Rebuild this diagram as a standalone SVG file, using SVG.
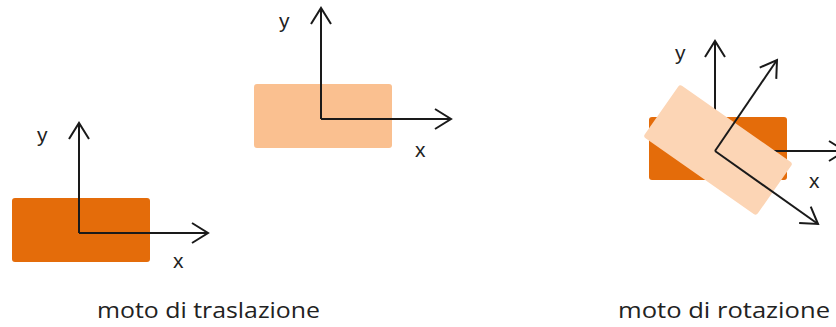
<svg xmlns="http://www.w3.org/2000/svg" width="836" height="327" viewBox="0 0 836 327">
<style>
.ax{stroke:#1a1a1a;stroke-width:2;fill:none;marker-end:url(#arr)}
.lbl{font-family:"Liberation Sans",Arial,sans-serif;font-size:21px;fill:#222}
.cap{font-family:"Open Sans","Liberation Sans",sans-serif;font-size:21px;fill:#222}
.dark{fill:#E46C0A}
.mid{fill:#FAC090}
.light{fill:#FCD5B5}
</style>
<defs>
<marker id="arr" markerUnits="userSpaceOnUse" viewBox="-18 -12 20 24" refX="0" refY="0" markerWidth="20" markerHeight="24" orient="auto" overflow="visible">
<path d="M-16,-10 L0,0 L-16,10" fill="none" stroke="#1a1a1a" stroke-width="2"/>
</marker>
</defs>
<g id="traslazione-start">
<rect class="dark" x="12" y="198" width="138" height="64" rx="3"/>
</g>
<g id="traslazione-end">
<rect class="mid" x="254" y="84" width="138" height="64" rx="3"/>
</g>
<g id="rotazione-start">
<rect class="dark" x="649" y="117" width="138" height="63" rx="3"/>
</g>
<g id="axes-fixed">
<line class="ax" x1="79" y1="233" x2="79" y2="123"/>
<line class="ax" x1="79" y1="233" x2="208" y2="233"/>
<line class="ax" x1="321" y1="119" x2="321" y2="8"/>
<line class="ax" x1="321" y1="119" x2="451" y2="119"/>
<line class="ax" x1="715" y1="151" x2="715" y2="41"/>
<line class="ax" x1="715" y1="151" x2="845" y2="151"/>
</g>
<g id="rotazione-end">
<rect class="light" x="-69" y="-32" width="138" height="64" rx="3" transform="translate(718 150) rotate(35)"/>
</g>
<g id="axes-rotated">
<line class="ax" x1="715" y1="151" x2="777" y2="60"/>
<line class="ax" x1="715" y1="151" x2="818" y2="224"/>
</g>
<g id="labels">
<text class="lbl" x="37" y="142">y</text>
<text class="lbl" x="173" y="268">x</text>
<text class="lbl" x="279" y="28">y</text>
<text class="lbl" x="415" y="157">x</text>
<text class="lbl" x="675" y="60">y</text>
<text class="lbl" x="809" y="188">x</text>
<text class="cap" x="97" y="318" textLength="223" lengthAdjust="spacingAndGlyphs">moto di traslazione</text>
<text class="cap" x="618" y="318" textLength="212" lengthAdjust="spacingAndGlyphs">moto di rotazione</text>
</g>
</svg>
